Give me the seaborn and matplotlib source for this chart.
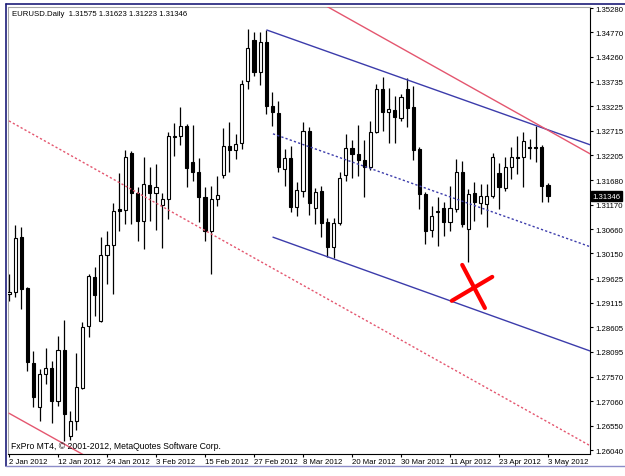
import matplotlib
matplotlib.use("Agg")
import matplotlib.pyplot as plt
import matplotlib.transforms as mtransforms
from matplotlib.lines import Line2D
import seaborn as sns
import numpy as np
import pandas as pd

# ---------------- data ----------------
opens = [1.2930, 1.2934, 1.3049, 1.2943, 1.2786, 1.2694, 1.2763, 1.2776, 1.2707, 1.2813,
         1.2633, 1.2665, 1.2734, 1.2863, 1.2966, 1.2874, 1.3012, 1.3033, 1.3108, 1.3106,
         1.3225, 1.3141, 1.3083, 1.3158, 1.3141, 1.3116, 1.3129, 1.3259, 1.3260, 1.3281,
         1.3206, 1.3185, 1.3133, 1.3062, 1.3129, 1.3179, 1.3240, 1.3231, 1.3246, 1.3375,
         1.3461, 1.3394, 1.3457, 1.3323, 1.3309, 1.3191, 1.3214, 1.3112, 1.3146, 1.3271,
         1.3110, 1.3146, 1.3081, 1.3029, 1.3079, 1.3179, 1.3235, 1.3223, 1.3210, 1.3196,
         1.3269, 1.3358, 1.3311, 1.3315, 1.3298, 1.3359, 1.3321, 1.3233, 1.3139, 1.3064,
         1.3102, 1.3110, 1.3081, 1.3108, 1.3185, 1.3066, 1.3141, 1.3120, 1.3118, 1.3135,
         1.3183, 1.3152, 1.3196, 1.3217, 1.3217, 1.3238, 1.3238, 1.3238, 1.31575]
highs = [1.2972, 1.3074, 1.3070, 1.2945, 1.2811, 1.2774, 1.2817, 1.2790, 1.2842, 1.2876,
         1.2686, 1.2807, 1.2872, 1.2972, 1.2987, 1.3049, 1.3062, 1.3120, 1.3183, 1.3231,
         1.3229, 1.3154, 1.3217, 1.3196, 1.3202, 1.3141, 1.3269, 1.3288, 1.3321, 1.3286,
         1.3283, 1.3214, 1.3154, 1.3156, 1.3177, 1.3277, 1.3290, 1.3265, 1.3377, 1.3484,
         1.3478, 1.3478, 1.3482, 1.3352, 1.3334, 1.3233, 1.3240, 1.3164, 1.3290, 1.3279,
         1.3152, 1.3156, 1.3089, 1.3089, 1.3185, 1.3265, 1.3252, 1.3283, 1.3252, 1.3292,
         1.3370, 1.3384, 1.3361, 1.3344, 1.3348, 1.3381, 1.3365, 1.3238, 1.3143, 1.3114,
         1.3133, 1.3123, 1.3156, 1.3212, 1.3208, 1.3150, 1.3164, 1.3160, 1.3160, 1.3225,
         1.3204, 1.3217, 1.3238, 1.3260, 1.3269, 1.3254, 1.3281, 1.3242, 1.31623]
lows = [1.2916, 1.2924, 1.2899, 1.2769, 1.2694, 1.2665, 1.2742, 1.2661, 1.2696, 1.2623,
        1.2625, 1.2646, 1.2732, 1.2840, 1.2884, 1.2872, 1.2951, 1.2930, 1.3062, 1.3077,
        1.3077, 1.3041, 1.3024, 1.3083, 1.3064, 1.3026, 1.3087, 1.3219, 1.3242, 1.3154,
        1.3166, 1.3081, 1.3041, 1.2972, 1.3114, 1.3173, 1.3185, 1.3212, 1.3233, 1.3358,
        1.3386, 1.3367, 1.3306, 1.3281, 1.3185, 1.3156, 1.3102, 1.3093, 1.3133, 1.3095,
        1.3077, 1.3049, 1.3008, 1.3005, 1.3074, 1.3166, 1.3173, 1.3177, 1.3133, 1.3189,
        1.3267, 1.3271, 1.3246, 1.3246, 1.3292, 1.3279, 1.3210, 1.3108, 1.3035, 1.3049,
        1.3031, 1.3051, 1.3062, 1.3102, 1.3070, 1.2997, 1.3083, 1.3098, 1.3070, 1.3131,
        1.3108, 1.3146, 1.3171, 1.3181, 1.3154, 1.3212, 1.3206, 1.3123, 1.31223]
closes = [1.2934, 1.3047, 1.2941, 1.2788, 1.2715, 1.2763, 1.2776, 1.2707, 1.2813, 1.2679,
          1.2665, 1.2736, 1.2861, 1.2968, 1.2928, 1.3012, 1.3033, 1.3104, 1.3104, 1.3217,
          1.3141, 1.3083, 1.3160, 1.3141, 1.3154, 1.3129, 1.3260, 1.3260, 1.3281, 1.3194,
          1.3185, 1.3133, 1.3062, 1.3129, 1.3137, 1.3240, 1.3231, 1.3244, 1.3370, 1.3444,
          1.3394, 1.3457, 1.3323, 1.3311, 1.3196, 1.3214, 1.3112, 1.3148, 1.3271, 1.3120,
          1.3143, 1.3079, 1.3029, 1.3079, 1.3173, 1.3235, 1.3223, 1.3210, 1.3196, 1.3269,
          1.3358, 1.3311, 1.3317, 1.3300, 1.3342, 1.3319, 1.3231, 1.3139, 1.3062, 1.3093,
          1.3104, 1.3081, 1.3110, 1.3185, 1.3077, 1.3139, 1.3123, 1.3135, 1.3135, 1.3217,
          1.3154, 1.3196, 1.3217, 1.3214, 1.3250, 1.3235, 1.3235, 1.3156, 1.31346]

date_labels = ["2 Jan 2012", "12 Jan 2012", "24 Jan 2012", "3 Feb 2012", "15 Feb 2012",
               "27 Feb 2012", "8 Mar 2012", "20 Mar 2012", "30 Mar 2012", "11 Apr 2012",
               "23 Apr 2012", "3 May 2012"]
date_label_bars = [0, 8, 16, 24, 32, 40, 48, 56, 64, 72, 80, 88]

price_ticks = [1.35280, 1.34770, 1.34260, 1.33735, 1.33225, 1.32715, 1.32205, 1.31680,
               1.31170, 1.30660, 1.30150, 1.29625, 1.29115, 1.28605, 1.28095, 1.27570,
               1.27060, 1.26550, 1.26040]

title_text = "EURUSD.Daily  1.31575 1.31623 1.31223 1.31346"
copyright_text = "FxPro MT4, \u00a9 2001-2012, MetaQuotes Software Corp."
last_price = 1.31346

# trend lines: (bar index, price) end points
blue_upper_bars = [42.1, 94.9];  blue_upper_prices = [1.3482, 1.3242]
blue_mid_bars = [43.1, 94.9];    blue_mid_prices = [1.3265, 1.3029]
blue_lower_bars = [43.1, 94.9];  blue_lower_prices = [1.3049, 1.2811]
red_upper_bars = [50.0, 94.9];   red_upper_prices = [1.3545, 1.3223]
red_mid_bars = [0.0, 94.9];      red_mid_prices = [1.3292, 1.2613]
red_lower_bars = [0.0, 14.0];    red_lower_prices = [1.2681, 1.2581]
cross1_bars = [72.3, 78.9];      cross1_prices = [1.2916, 1.2966]
cross2_bars = [74.0, 77.7];      cross2_prices = [1.2991, 1.2901]

# ---------------- styling ----------------
sns.set_theme(style="white")
plt.rcParams['font.family'] = ['Liberation Sans', 'DejaVu Sans']

W, H = 625, 477
fig = plt.figure(figsize=(W / 100, H / 100), dpi=100)
fig.patch.set_facecolor("white")
ax = fig.add_axes([8 / W, 1 - 455 / H, (590 - 8) / W, (455 - 8) / H])
ax.set_facecolor("white")

df = pd.DataFrame({"o": opens, "h": highs, "l": lows, "c": closes})
df["x"] = np.arange(len(df))
up = df[df["c"] >= df["o"]]
dn = df[df["c"] < df["o"]]

ax.vlines(df["x"], df["l"], df["h"], color="black", lw=0.9, zorder=2)
minh = 0.00004
ax.bar(up["x"], np.maximum(up["c"] - up["o"], minh), bottom=up["o"], width=0.5,
       color="white", edgecolor="black", linewidth=0.8, zorder=3)
ax.bar(dn["x"], np.maximum(dn["o"] - dn["c"], minh), bottom=dn["c"], width=0.5,
       color="black", edgecolor="black", linewidth=0.8, zorder=3)

blue = "#3c3cab"
red = "#e4566f"
dots = (1.6, 1.6)
sns.lineplot(x=blue_upper_bars, y=blue_upper_prices, ax=ax, color=blue, lw=1.0, zorder=4)
sns.lineplot(x=blue_mid_bars, y=blue_mid_prices, ax=ax, color=blue, lw=1.0,
             linestyle=(0, dots), zorder=4)
sns.lineplot(x=blue_lower_bars, y=blue_lower_prices, ax=ax, color=blue, lw=1.0, zorder=4)
sns.lineplot(x=red_upper_bars, y=red_upper_prices, ax=ax, color=red, lw=1.0, zorder=4)
sns.lineplot(x=red_mid_bars, y=red_mid_prices, ax=ax, color=red, lw=1.0,
             linestyle=(0, dots), zorder=4)
sns.lineplot(x=red_lower_bars, y=red_lower_prices, ax=ax, color=red, lw=1.0, zorder=4)
sns.lineplot(x=cross1_bars, y=cross1_prices, ax=ax, color="#ff0000", lw=3.0, zorder=5)
sns.lineplot(x=cross2_bars, y=cross2_prices, ax=ax, color="#ff0000", lw=3.0, zorder=5)

ax.set_xlim(-0.16, 94.86)
ax.set_ylim(1.25958, 1.35301)

ax.set_xticks(date_label_bars)
ax.set_xticklabels(date_labels, ha="left", fontsize=5.6)
ax.yaxis.tick_right()
ax.set_yticks(price_ticks)
ax.set_yticklabels([f"{p:.5f}" for p in price_ticks], fontsize=5.6)
ax.tick_params(axis="x", direction="out", length=2.2, width=0.8, pad=0.6, colors="black",
               bottom=True)
ax.tick_params(axis="y", direction="out", length=2.5, width=0.8, pad=1.2, colors="black",
               right=True, left=False)
ax.set_xlabel("")
ax.set_ylabel("")
ax.grid(False)
for s in ["right", "bottom"]:
    ax.spines[s].set_color("black")
    ax.spines[s].set_linewidth(0.8)
for s in ["top", "left"]:
    ax.spines[s].set_color("#a8a8a8")
    ax.spines[s].set_linewidth(0.8)

trans = mtransforms.blended_transform_factory(ax.transAxes, ax.transData)
ax.text(1.004, last_price, f"{last_price:.5f}", transform=trans, ha="left", va="center",
        fontsize=5.6, color="white", zorder=10,
        bbox=dict(facecolor="black", edgecolor="black", pad=1.0))

fig.text(12 / W, 1 - 15 / H, title_text, fontsize=5.6, color="black", va="center", ha="left")
fig.text(11 / W, 1 - 447 / H, copyright_text, fontsize=6.2, color="black", va="center", ha="left")

# outer window frame (top & left navy, bottom light blue)
fig.add_artist(Line2D([6 / W, 625 / W], [1 - 5 / H, 1 - 5 / H], transform=fig.transFigure,
                      color="#1c1c78", lw=1.2))
fig.add_artist(Line2D([6 / W, 6 / W], [1 - 5 / H, 1 - 467 / H], transform=fig.transFigure,
                      color="#1c1c78", lw=1.2))
fig.add_artist(Line2D([6 / W, 625 / W], [1 - 467 / H, 1 - 467 / H], transform=fig.transFigure,
                      color="#8c8cc8", lw=1.0))

fig.savefig("out.png", dpi=100)
